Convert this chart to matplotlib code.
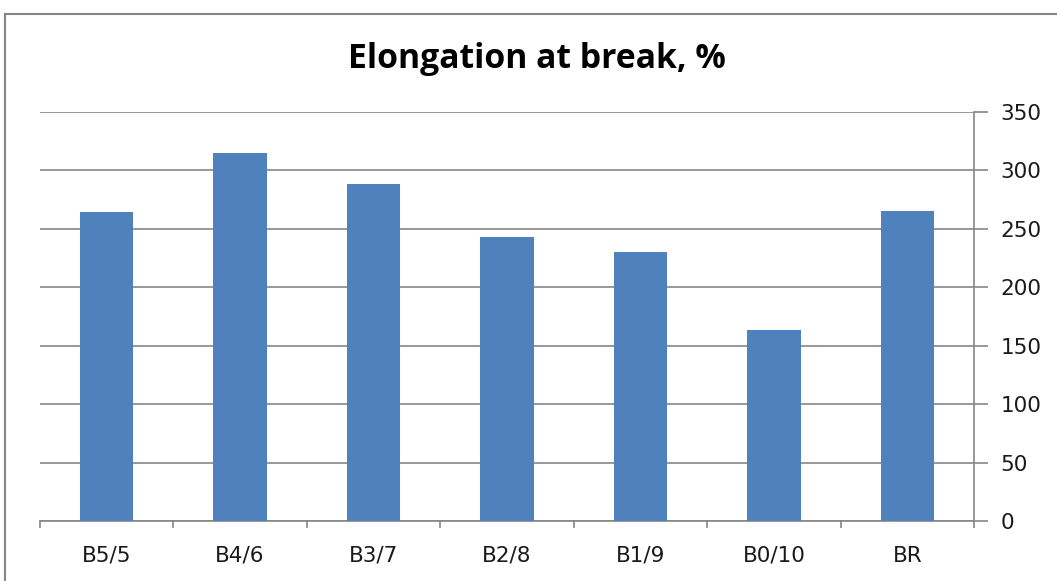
import numpy as np
import matplotlib.pyplot as plt
from matplotlib.lines import Line2D

categories = ['B5/5', 'B4/6', 'B3/7', 'B2/8', 'B1/9', 'B0/10', 'BR']
elongation = [264, 315, 288, 243, 230, 163, 265]
y_ticks = [0, 50, 100, 150, 200, 250, 300, 350]

plt.rcParams['font.family'] = ['DejaVu Sans']
grey = '#868686'
label_col = '#1a1a1a'

fig = plt.figure(figsize=(10.57, 5.81), dpi=100)
ax = fig.add_axes([0.0378, 0.1033, 0.8837, 0.704])

x = np.arange(len(categories))
ax.bar(x, elongation, width=0.4, color='#4F81BD', zorder=3)

ax.set_xlim(-0.5, len(categories) - 0.5)
ax.set_ylim(0, 350)

# y axis on the right side, Excel style
ax.yaxis.tick_right()
ax.set_yticks(y_ticks)
ax.tick_params(axis='y', direction='out', length=10, width=1.2, color=grey,
               labelsize=15.5, pad=9, labelcolor=label_col)
ax.grid(axis='y', color=grey, linewidth=1.2, zorder=0)

ax.set_xticks(x)
ax.set_xticklabels(categories)
ax.set_xticks(np.arange(-0.5, len(categories)), minor=True)
ax.tick_params(axis='x', which='major', length=0, labelsize=15.5, pad=18,
               labelcolor=label_col)
ax.tick_params(axis='x', which='minor', direction='out', length=5, width=1.2,
               color=grey)

for side in ['left', 'top']:
    ax.spines[side].set_visible(False)
for side in ['right', 'bottom']:
    ax.spines[side].set_color(grey)
    ax.spines[side].set_linewidth(1.2)

fig.text(0.508, 0.883, 'Elongation at break, %', ha='center', va='baseline',
         fontsize=24.3, fontweight='bold', color='black', family='Open Sans')

# outer chart frame (partly cut off in the original)
fig.add_artist(Line2D([0.0047, 0.0047], [0, 0.976], color=grey, linewidth=1.5))
fig.add_artist(Line2D([0.0047, 1.0], [0.976, 0.976], color=grey, linewidth=1.5))

fig.savefig('out.png', dpi=100)
